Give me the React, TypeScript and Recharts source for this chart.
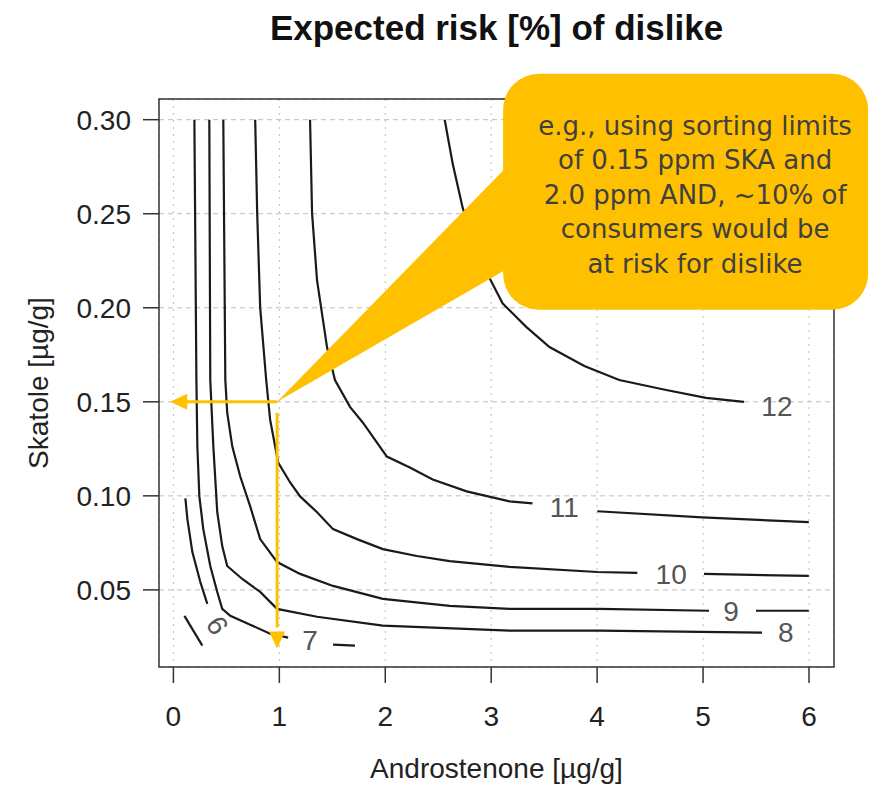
import React from 'react'
import { ComposedChart, Line, XAxis, YAxis, CartesianGrid, ReferenceArea, ReferenceDot } from 'recharts'

const xTicks = [0, 1, 2, 3, 4, 5, 6]
const yTicks = [0.05, 0.1, 0.15, 0.2, 0.25, 0.3]
const xDomain = [-0.136, 6.236]
const yDomain = [0.009, 0.311]

// contour pieces: [androstenone, skatole]
const level6a = [[0.113, 0.0987], [0.132, 0.0876], [0.179, 0.0701], [0.254, 0.0542], [0.32, 0.0426]]
const level6b = [[0.104, 0.0362], [0.273, 0.0204]]
const level7a = [
  [0.198, 0.3], [0.217, 0.1616], [0.226, 0.1262], [0.245, 0.0997], [0.282, 0.0823], [0.348, 0.0627],
  [0.414, 0.0489], [0.461, 0.0399], [0.537, 0.0362], [0.725, 0.0315], [0.913, 0.0267], [1.083, 0.0246],
]
const level7b = [[1.507, 0.0209], [1.714, 0.0204]]
const level8 = [
  [0.339, 0.3], [0.348, 0.1616], [0.377, 0.1262], [0.414, 0.0913], [0.461, 0.0733], [0.508, 0.0627],
  [0.65, 0.0558], [0.819, 0.0489], [0.979, 0.0399], [1.356, 0.0357], [1.977, 0.031], [3.173, 0.0283],
  [4.021, 0.0283], [5.556, 0.0273],
]
const level9a = [
  [0.471, 0.3], [0.49, 0.1616], [0.508, 0.1442], [0.556, 0.1262], [0.631, 0.1103], [0.725, 0.0944],
  [0.819, 0.077], [0.979, 0.0648], [1.196, 0.0585], [1.507, 0.0521], [1.977, 0.0452], [2.608, 0.0415],
  [3.173, 0.0399], [4.021, 0.0399], [5.056, 0.0389],
]
const level9b = [[5.499, 0.0389], [5.998, 0.0389]]
const level10a = [
  [0.772, 0.3], [0.791, 0.2502], [0.819, 0.2002], [0.876, 0.1616], [0.913, 0.1405], [0.989, 0.1177],
  [1.102, 0.1071], [1.196, 0.0997], [1.356, 0.0913], [1.507, 0.0823], [1.733, 0.077], [1.977, 0.0717],
  [2.298, 0.068], [2.608, 0.0653], [3.173, 0.0622], [4.002, 0.0595], [4.379, 0.059],
]
const level10b = [[5.009, 0.0585], [5.998, 0.0574]]
const level11a = [
  [1.29, 0.3], [1.309, 0.2502], [1.356, 0.2145], [1.45, 0.1791], [1.525, 0.1616], [1.667, 0.1473],
  [1.789, 0.1389], [2.015, 0.1209], [2.232, 0.1151], [2.448, 0.1087], [2.768, 0.1024], [3.173, 0.0971],
  [3.39, 0.096],
]
const level11b = [[4.002, 0.0918], [4.991, 0.0886], [5.998, 0.086]]
const level12 = [
  [2.561, 0.3], [2.637, 0.2764], [2.731, 0.2531], [2.825, 0.2373], [2.957, 0.2188], [3.107, 0.2024],
  [3.333, 0.1897], [3.55, 0.1791], [3.879, 0.169], [4.209, 0.1616], [4.652, 0.1563], [5.028, 0.1521],
  [5.386, 0.15],
]

const contourPieces = [
  level6a, level6b, level7a, level7b, level8, level9a, level9b, level10a, level10b, level11a, level11b, level12,
]

const labelText = ['6', '7', '8', '9', '10', '11', '12']
const labelX = [0.414, 1.29, 5.782, 5.264, 4.699, 3.691, 5.697]
const labelY = [0.031, 0.023, 0.0273, 0.0384, 0.058, 0.0939, 0.1473]
const labelAngle = [59, 0, 0, 0, 0, 0, 0]

// sorting limit used in the callout
const limitX = 0.979
const limitY = 0.15
const arrowLeftX = -0.03
const arrowDownY = 0.0188

const calloutLines = [
  'e.g., using sorting limits',
  'of 0.15 ppm SKA and',
  '2.0 ppm AND, ~10% of',
  'consumers would be',
  'at risk for dislike',
]

const W = 892
const H = 785
const M = { top: 99, right: 58, bottom: 0, left: 0 }
const Y_AXIS_W = 159
const X_AXIS_H = 118
const YELLOW = '#FFC000'
const INK = '#1a1a1a'

const toPoints = (arr: number[][]) => arr.map(([x, y]) => ({ x, y }))

// the callout sits on top of everything, so it is drawn in an overlay;
// its tip is placed at the sorting limit in plot coordinates
function CalloutOverlay() {
  const plotW = W - M.left - M.right - Y_AXIS_W
  const plotH = H - M.top - M.bottom - X_AXIS_H
  const cx = M.left + Y_AXIS_W + ((limitX - xDomain[0]) / (xDomain[1] - xDomain[0])) * plotW
  const cy = M.top + ((yDomain[1] - limitY) / (yDomain[1] - yDomain[0])) * plotH
  const bx = cx + 226
  const by = cy - 328
  return (
    <svg width={W} height={H} style={{ position: 'absolute', left: 0, top: 0, pointerEvents: 'none' }}>
      <polygon points={`${cx},${cy} ${cx + 256},${cy - 262} ${cx + 256},${cy - 148}`} fill={YELLOW} />
      <rect x={bx} y={by} width={365} height={236} rx={36} ry={36} fill={YELLOW} />
      {calloutLines.map((t, i) => (
        <text
          key={i}
          x={cx + 418}
          y={cy - 276 + i * 34.5}
          textAnchor="middle"
          dominantBaseline="central"
          fontFamily="'DejaVu Sans', sans-serif"
          fontSize={26}
          fill="#404040"
        >
          {t}
        </text>
      ))}
    </svg>
  )
}

export default function App() {
  return (
    <div
      style={{
        position: 'absolute',
        left: 0,
        top: 0,
        width: W,
        height: H,
        background: '#fff',
        fontFamily: "'Liberation Sans', Arial, sans-serif",
      }}
    >
      <div
        style={{
          position: 'absolute',
          top: 8,
          left: 0,
          width: 993,
          textAlign: 'center',
          fontSize: 35,
          lineHeight: '40px',
          fontWeight: 'bold',
          color: '#111',
        }}
      >
        Expected risk [%] of dislike
      </div>
      <ComposedChart width={W} height={H} margin={M}>
        <CartesianGrid horizontal vertical={false} stroke="#bdbdbd" strokeDasharray="5 4" />
        <CartesianGrid horizontal={false} vertical stroke="#bdbdbd" strokeDasharray="2 5" />
        <XAxis
          type="number"
          dataKey="x"
          domain={xDomain}
          ticks={xTicks}
          interval={0}
          allowDataOverflow
          axisLine={false}
          tickLine={{ stroke: '#333', strokeWidth: 1.5 }}
          tickSize={16}
          tickMargin={23}
          height={X_AXIS_H}
          tick={{ fontSize: 28, fill: '#222' }}
          label={{ value: 'Androstenone [µg/g]', position: 'insideBottom', offset: 7, fontSize: 28, fill: '#222' }}
        />
        <YAxis
          type="number"
          dataKey="y"
          domain={yDomain}
          ticks={yTicks}
          interval={0}
          allowDataOverflow
          width={Y_AXIS_W}
          axisLine={false}
          tickLine={{ stroke: '#333', strokeWidth: 1.5 }}
          tickSize={16}
          tickMargin={12}
          tickFormatter={(v: number) => v.toFixed(2)}
          tick={{ fontSize: 28, fill: '#222' }}
          label={{
            value: 'Skatole [µg/g]',
            angle: -90,
            position: 'insideLeft',
            offset: 38,
            fontSize: 28,
            fill: '#222',
            style: { textAnchor: 'middle' },
          }}
        />
        <ReferenceArea
          x1={xDomain[0]}
          x2={xDomain[1]}
          y1={yDomain[0]}
          y2={yDomain[1]}
          fill="none"
          stroke="#333"
          strokeWidth={1.5}
        />
        {contourPieces.map((piece, i) => (
          <Line
            key={i}
            data={toPoints(piece)}
            dataKey="y"
            type="linear"
            stroke={INK}
            strokeWidth={2.2}
            dot={false}
            activeDot={false}
            isAnimationActive={false}
          />
        ))}
        {labelText.map((t, i) => (
          <ReferenceDot
            key={'l' + i}
            x={labelX[i]}
            y={labelY[i]}
            shape={(p: any) => (
              <text
                x={p.cx}
                y={p.cy}
                textAnchor="middle"
                dominantBaseline="central"
                fontSize={28}
                fill="#555"
                transform={labelAngle[i] ? `rotate(${labelAngle[i]}, ${p.cx}, ${p.cy})` : undefined}
              >
                {t}
              </text>
            )}
          />
        ))}
        <Line
          data={toPoints([[limitX, limitY], [0, limitY]])}
          dataKey="y"
          stroke={YELLOW}
          strokeWidth={3}
          dot={false}
          activeDot={false}
          isAnimationActive={false}
        />
        <Line
          data={toPoints([[limitX, 0.1442], [limitX, 0.03]])}
          dataKey="y"
          stroke={YELLOW}
          strokeWidth={3}
          dot={false}
          activeDot={false}
          isAnimationActive={false}
        />
        <ReferenceDot
          x={arrowLeftX}
          y={limitY}
          shape={(p: any) => (
            <polygon points={`${p.cx},${p.cy} ${p.cx + 17},${p.cy - 8} ${p.cx + 17},${p.cy + 8}`} fill={YELLOW} />
          )}
        />
        <ReferenceDot
          x={limitX}
          y={arrowDownY}
          shape={(p: any) => (
            <polygon points={`${p.cx},${p.cy} ${p.cx - 8},${p.cy - 17} ${p.cx + 8},${p.cy - 17}`} fill={YELLOW} />
          )}
        />
      </ComposedChart>
      <CalloutOverlay />
    </div>
  )
}
